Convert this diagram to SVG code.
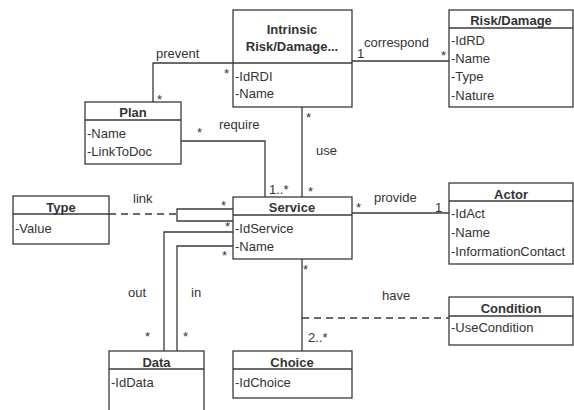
<svg xmlns="http://www.w3.org/2000/svg" width="574" height="410" viewBox="0 0 574 410">
<style>
.box{fill:#fff;stroke:#3a3a3a;stroke-width:1.3}
.div{stroke:#3a3a3a;stroke-width:1.3}
.ln{fill:none;stroke:#3a3a3a;stroke-width:1.3}
.dash{fill:none;stroke:#3a3a3a;stroke-width:1.3;stroke-dasharray:7,5}
text{font-family:"Liberation Sans",Arial,sans-serif;font-size:13px;fill:#333}
.t{font-weight:bold;text-anchor:middle}
</style>
<rect width="574" height="410" fill="#fff"/>
<g id="connectors">
<polyline class="ln" points="233,63 153,63 153,102"/>
<line class="ln" x1="352" y1="61" x2="449" y2="61"/>
<line class="ln" x1="302" y1="107" x2="302" y2="197"/>
<polyline class="ln" points="181,141 265,141 265,197"/>
<polyline class="ln" points="233,209 177,209 177,221 233,221"/>
<line class="dash" x1="109" y1="214" x2="177" y2="214"/>
<polyline class="ln" points="233,232 164,232 164,351"/>
<polyline class="ln" points="233,246 177,246 177,351"/>
<line class="ln" x1="352" y1="213" x2="449" y2="213"/>
<line class="ln" x1="302" y1="259" x2="302" y2="351"/>
<line class="dash" x1="302" y1="318" x2="449" y2="318"/>
<text x="156" y="58">prevent</text>
<text x="224" y="78">*</text>
<text x="157" y="104">*</text>
<text x="364" y="47">correspond</text>
<text x="357" y="58">1</text>
<text x="441" y="60">*</text>
<text x="306" y="122">*</text>
<text x="316" y="155">use</text>
<text x="308" y="196">*</text>
<text x="197" y="137">*</text>
<text x="219" y="129">require</text>
<text x="269" y="194">1..*</text>
<text x="133" y="203">link</text>
<text x="221" y="210">*</text>
<text x="225" y="231">*</text>
<text x="128" y="297">out</text>
<text x="191" y="297">in</text>
<text x="145" y="341">*</text>
<text x="183" y="341">*</text>
<text x="222" y="260">*</text>
<text x="356" y="212">*</text>
<text x="374" y="202">provide</text>
<text x="435" y="212">1</text>
<text x="382" y="300">have</text>
<text x="303" y="274">*</text>
<text x="308" y="342">2..*</text>
</g>
<g id="intrinsic">
<rect class="box" x="233" y="10" width="119" height="97"/>
<line class="div" x1="233" y1="63" x2="352" y2="63"/>
<text class="t" x="292" y="34">Intrinsic</text>
<text class="t" x="292" y="51">Risk/Damage...</text>
<text x="235" y="81">-IdRDI</text>
<text x="235" y="98">-Name</text>
</g>
<g id="riskdamage">
<rect class="box" x="449" y="10" width="124" height="97"/>
<line class="div" x1="449" y1="28" x2="573" y2="28"/>
<text class="t" x="511" y="25">Risk/Damage</text>
<text x="451" y="45">-IdRD</text>
<text x="451" y="63">-Name</text>
<text x="451" y="81">-Type</text>
<text x="451" y="100">-Nature</text>
</g>
<g id="plan">
<rect class="box" x="85" y="102" width="96" height="62"/>
<line class="div" x1="85" y1="120" x2="181" y2="120"/>
<text class="t" x="133" y="117">Plan</text>
<text x="87" y="138">-Name</text>
<text x="87" y="156">-LinkToDoc</text>
</g>
<g id="type">
<rect class="box" x="13" y="196" width="96" height="48"/>
<line class="div" x1="13" y1="214" x2="109" y2="214"/>
<text class="t" x="61" y="212">Type</text>
<text x="15" y="233">-Value</text>
</g>
<g id="service">
<rect class="box" x="233" y="197" width="119" height="62"/>
<line class="div" x1="233" y1="215" x2="352" y2="215"/>
<text class="t" x="292" y="212">Service</text>
<text x="235" y="233">-IdService</text>
<text x="235" y="251">-Name</text>
</g>
<g id="actor">
<rect class="box" x="449" y="183" width="124" height="81"/>
<line class="div" x1="449" y1="201" x2="573" y2="201"/>
<text class="t" x="511" y="199">Actor</text>
<text x="451" y="218">-IdAct</text>
<text x="451" y="237">-Name</text>
<text x="451" y="256">-InformationContact</text>
</g>
<g id="condition">
<rect class="box" x="449" y="297" width="124" height="48"/>
<line class="div" x1="449" y1="316" x2="573" y2="316"/>
<text class="t" x="511" y="313">Condition</text>
<text x="451" y="332">-UseCondition</text>
</g>
<g id="data">
<rect class="box" x="109" y="351" width="95" height="70"/>
<line class="div" x1="109" y1="369" x2="204" y2="369"/>
<text class="t" x="156.5" y="367">Data</text>
<text x="111" y="387">-IdData</text>
</g>
<g id="choice">
<rect class="box" x="233" y="351" width="119" height="47"/>
<line class="div" x1="233" y1="369" x2="352" y2="369"/>
<text class="t" x="292" y="367">Choice</text>
<text x="235" y="387">-IdChoice</text>
</g>
</svg>
